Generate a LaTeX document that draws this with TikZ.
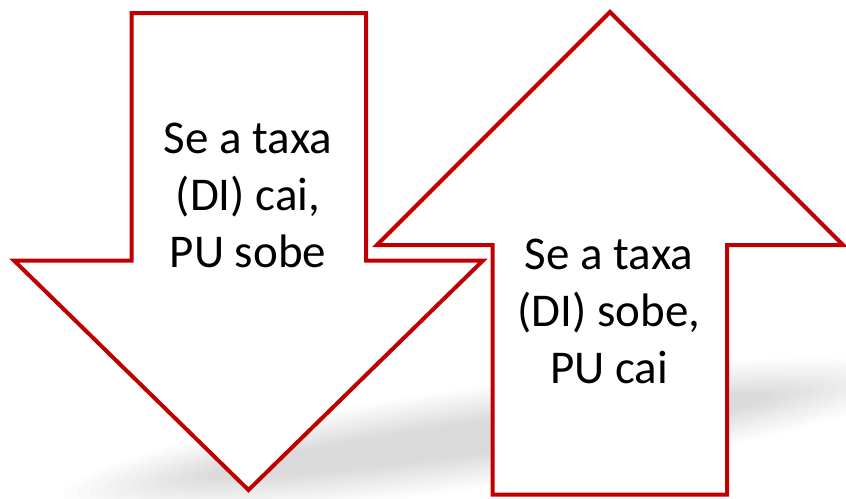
\documentclass[tikz,border=0pt]{standalone}
\usepackage{fontspec}
\setmainfont{Carlito}
\definecolor{vermelho}{HTML}{C00000}
\begin{document}
\begin{tikzpicture}[x=1pt,y=-1pt,
  seta/.style={draw=vermelho,line width=4pt,fill=white,line join=miter},
  texto/.style={align=center,inner sep=0pt,font=\fontsize{47}{57}\selectfont}]
\useasboundingbox (0,0) rectangle (846,498);
% sombra
\foreach \k in {0,...,11}
  \fill[black,opacity=0.011,rotate around={8:(490,436)}] (490,436) ellipse ({430-13*\k} and {50-3*\k});
% seta para baixo
\draw[seta] (131.5,13) -- (366,13) -- (366,260.5) -- (483,260.5) -- (248.5,490)
  -- (14,260.5) -- (131.5,260.5) -- cycle;
% seta para cima
\draw[seta] (610,12) -- (843,245) -- (727,245) -- (727,494.5) -- (492.5,494.5)
  -- (492.5,245) -- (377,245) -- cycle;
\node[texto] (cai) at (248,195) {Se a taxa\\(DI) cai,\\PU sobe};
\node[texto] (sobe) at (609,311) {Se a taxa\\(DI) sobe,\\PU cai};
\end{tikzpicture}
\end{document}
